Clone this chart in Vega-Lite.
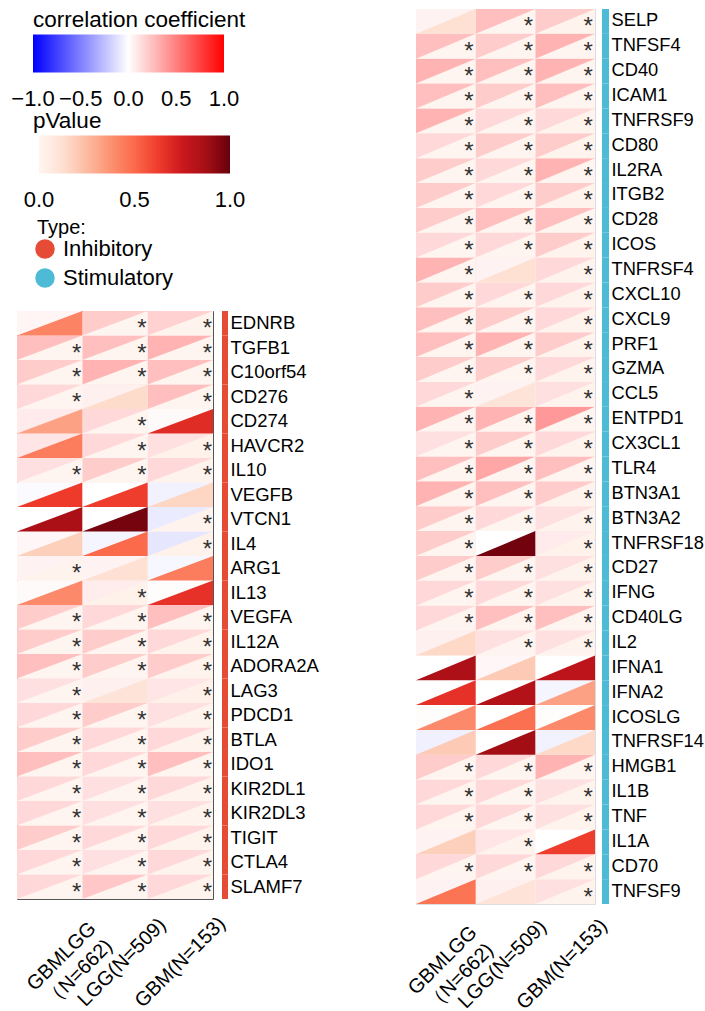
{
  "$schema": "https://vega.github.io/schema/vega-lite/v6.json",
  "padding": {"left": 16, "top": 8, "right": 0, "bottom": 0},
  "config": {
    "font": "Liberation Sans",
    "view": {"stroke": null},
    "legend": {"padding": 0, "titleFontWeight": "normal", "titleColor": "#000", "labelColor": "#000", "labelOverlap": false, "titleLimit": 0}
  },
  "datasets": {
    "inhibitory": [
      {"gene": "EDNRB", "cohort": "GBMLGG\n（N=662)", "corr": 0.04, "p": 0.42},
      {"gene": "EDNRB", "cohort": "LGG(N=509)", "corr": 0.2, "p": 0.001},
      {"gene": "EDNRB", "cohort": "GBM(N=153)", "corr": 0.18, "p": 0.01},
      {"gene": "TGFB1", "cohort": "GBMLGG\n（N=662)", "corr": 0.25, "p": 0.001},
      {"gene": "TGFB1", "cohort": "LGG(N=509)", "corr": 0.25, "p": 0.001},
      {"gene": "TGFB1", "cohort": "GBM(N=153)", "corr": 0.3, "p": 0.001},
      {"gene": "C10orf54", "cohort": "GBMLGG\n（N=662)", "corr": 0.2, "p": 0.001},
      {"gene": "C10orf54", "cohort": "LGG(N=509)", "corr": 0.3, "p": 0.001},
      {"gene": "C10orf54", "cohort": "GBM(N=153)", "corr": 0.25, "p": 0.001},
      {"gene": "CD276", "cohort": "GBMLGG\n（N=662)", "corr": 0.15, "p": 0.001},
      {"gene": "CD276", "cohort": "LGG(N=509)", "corr": 0.06, "p": 0.14},
      {"gene": "CD276", "cohort": "GBM(N=153)", "corr": 0.25, "p": 0.001},
      {"gene": "CD274", "cohort": "GBMLGG\n（N=662)", "corr": 0.08, "p": 0.33},
      {"gene": "CD274", "cohort": "LGG(N=509)", "corr": 0.15, "p": 0.001},
      {"gene": "CD274", "cohort": "GBM(N=153)", "corr": 0.02, "p": 0.68},
      {"gene": "HAVCR2", "cohort": "GBMLGG\n（N=662)", "corr": 0.1, "p": 0.44},
      {"gene": "HAVCR2", "cohort": "LGG(N=509)", "corr": 0.15, "p": 0.001},
      {"gene": "HAVCR2", "cohort": "GBM(N=153)", "corr": 0.12, "p": 0.02},
      {"gene": "IL10", "cohort": "GBMLGG\n（N=662)", "corr": 0.12, "p": 0.001},
      {"gene": "IL10", "cohort": "LGG(N=509)", "corr": 0.2, "p": 0.001},
      {"gene": "IL10", "cohort": "GBM(N=153)", "corr": 0.15, "p": 0.01},
      {"gene": "VEGFB", "cohort": "GBMLGG\n（N=662)", "corr": -0.02, "p": 0.63},
      {"gene": "VEGFB", "cohort": "LGG(N=509)", "corr": 0.0, "p": 0.62},
      {"gene": "VEGFB", "cohort": "GBM(N=153)", "corr": -0.05, "p": 0.16},
      {"gene": "VTCN1", "cohort": "GBMLGG\n（N=662)", "corr": 0.0, "p": 0.86},
      {"gene": "VTCN1", "cohort": "LGG(N=509)", "corr": 0.0, "p": 0.97},
      {"gene": "VTCN1", "cohort": "GBM(N=153)", "corr": -0.08, "p": 0.01},
      {"gene": "IL4", "cohort": "GBMLGG\n（N=662)", "corr": 0.03, "p": 0.18},
      {"gene": "IL4", "cohort": "LGG(N=509)", "corr": -0.04, "p": 0.5},
      {"gene": "IL4", "cohort": "GBM(N=153)", "corr": -0.1, "p": 0.02},
      {"gene": "ARG1", "cohort": "GBMLGG\n（N=662)", "corr": 0.05, "p": 0.01},
      {"gene": "ARG1", "cohort": "LGG(N=509)", "corr": 0.05, "p": 0.12},
      {"gene": "ARG1", "cohort": "GBM(N=153)", "corr": -0.03, "p": 0.44},
      {"gene": "IL13", "cohort": "GBMLGG\n（N=662)", "corr": 0.02, "p": 0.4},
      {"gene": "IL13", "cohort": "LGG(N=509)", "corr": 0.07, "p": 0.02},
      {"gene": "IL13", "cohort": "GBM(N=153)", "corr": 0.01, "p": 0.66},
      {"gene": "VEGFA", "cohort": "GBMLGG\n（N=662)", "corr": 0.2, "p": 0.001},
      {"gene": "VEGFA", "cohort": "LGG(N=509)", "corr": 0.15, "p": 0.001},
      {"gene": "VEGFA", "cohort": "GBM(N=153)", "corr": 0.25, "p": 0.001},
      {"gene": "IL12A", "cohort": "GBMLGG\n（N=662)", "corr": 0.2, "p": 0.001},
      {"gene": "IL12A", "cohort": "LGG(N=509)", "corr": 0.2, "p": 0.001},
      {"gene": "IL12A", "cohort": "GBM(N=153)", "corr": 0.15, "p": 0.01},
      {"gene": "ADORA2A", "cohort": "GBMLGG\n（N=662)", "corr": 0.25, "p": 0.001},
      {"gene": "ADORA2A", "cohort": "LGG(N=509)", "corr": 0.2, "p": 0.001},
      {"gene": "ADORA2A", "cohort": "GBM(N=153)", "corr": 0.2, "p": 0.01},
      {"gene": "LAG3", "cohort": "GBMLGG\n（N=662)", "corr": 0.12, "p": 0.001},
      {"gene": "LAG3", "cohort": "LGG(N=509)", "corr": 0.06, "p": 0.1},
      {"gene": "LAG3", "cohort": "GBM(N=153)", "corr": 0.1, "p": 0.03},
      {"gene": "PDCD1", "cohort": "GBMLGG\n（N=662)", "corr": 0.15, "p": 0.001},
      {"gene": "PDCD1", "cohort": "LGG(N=509)", "corr": 0.2, "p": 0.001},
      {"gene": "PDCD1", "cohort": "GBM(N=153)", "corr": 0.12, "p": 0.01},
      {"gene": "BTLA", "cohort": "GBMLGG\n（N=662)", "corr": 0.2, "p": 0.001},
      {"gene": "BTLA", "cohort": "LGG(N=509)", "corr": 0.15, "p": 0.001},
      {"gene": "BTLA", "cohort": "GBM(N=153)", "corr": 0.15, "p": 0.01},
      {"gene": "IDO1", "cohort": "GBMLGG\n（N=662)", "corr": 0.25, "p": 0.001},
      {"gene": "IDO1", "cohort": "LGG(N=509)", "corr": 0.15, "p": 0.001},
      {"gene": "IDO1", "cohort": "GBM(N=153)", "corr": 0.25, "p": 0.001},
      {"gene": "KIR2DL1", "cohort": "GBMLGG\n（N=662)", "corr": 0.15, "p": 0.001},
      {"gene": "KIR2DL1", "cohort": "LGG(N=509)", "corr": 0.12, "p": 0.001},
      {"gene": "KIR2DL1", "cohort": "GBM(N=153)", "corr": 0.15, "p": 0.01},
      {"gene": "KIR2DL3", "cohort": "GBMLGG\n（N=662)", "corr": 0.15, "p": 0.001},
      {"gene": "KIR2DL3", "cohort": "LGG(N=509)", "corr": 0.12, "p": 0.001},
      {"gene": "KIR2DL3", "cohort": "GBM(N=153)", "corr": 0.12, "p": 0.01},
      {"gene": "TIGIT", "cohort": "GBMLGG\n（N=662)", "corr": 0.2, "p": 0.001},
      {"gene": "TIGIT", "cohort": "LGG(N=509)", "corr": 0.15, "p": 0.001},
      {"gene": "TIGIT", "cohort": "GBM(N=153)", "corr": 0.15, "p": 0.01},
      {"gene": "CTLA4", "cohort": "GBMLGG\n（N=662)", "corr": 0.15, "p": 0.001},
      {"gene": "CTLA4", "cohort": "LGG(N=509)", "corr": 0.12, "p": 0.001},
      {"gene": "CTLA4", "cohort": "GBM(N=153)", "corr": 0.15, "p": 0.01},
      {"gene": "SLAMF7", "cohort": "GBMLGG\n（N=662)", "corr": 0.15, "p": 0.001},
      {"gene": "SLAMF7", "cohort": "LGG(N=509)", "corr": 0.22, "p": 0.001},
      {"gene": "SLAMF7", "cohort": "GBM(N=153)", "corr": 0.15, "p": 0.01}
    ],
    "stimulatory": [
      {"gene": "SELP", "cohort": "GBMLGG\n（N=662)", "corr": 0.05, "p": 0.12},
      {"gene": "SELP", "cohort": "LGG(N=509)", "corr": 0.25, "p": 0.001},
      {"gene": "SELP", "cohort": "GBM(N=153)", "corr": 0.2, "p": 0.01},
      {"gene": "TNFSF4", "cohort": "GBMLGG\n（N=662)", "corr": 0.25, "p": 0.001},
      {"gene": "TNFSF4", "cohort": "LGG(N=509)", "corr": 0.2, "p": 0.001},
      {"gene": "TNFSF4", "cohort": "GBM(N=153)", "corr": 0.3, "p": 0.001},
      {"gene": "CD40", "cohort": "GBMLGG\n（N=662)", "corr": 0.3, "p": 0.001},
      {"gene": "CD40", "cohort": "LGG(N=509)", "corr": 0.25, "p": 0.001},
      {"gene": "CD40", "cohort": "GBM(N=153)", "corr": 0.3, "p": 0.001},
      {"gene": "ICAM1", "cohort": "GBMLGG\n（N=662)", "corr": 0.25, "p": 0.001},
      {"gene": "ICAM1", "cohort": "LGG(N=509)", "corr": 0.2, "p": 0.001},
      {"gene": "ICAM1", "cohort": "GBM(N=153)", "corr": 0.25, "p": 0.001},
      {"gene": "TNFRSF9", "cohort": "GBMLGG\n（N=662)", "corr": 0.3, "p": 0.001},
      {"gene": "TNFRSF9", "cohort": "LGG(N=509)", "corr": 0.15, "p": 0.001},
      {"gene": "TNFRSF9", "cohort": "GBM(N=153)", "corr": 0.15, "p": 0.01},
      {"gene": "CD80", "cohort": "GBMLGG\n（N=662)", "corr": 0.15, "p": 0.001},
      {"gene": "CD80", "cohort": "LGG(N=509)", "corr": 0.2, "p": 0.001},
      {"gene": "CD80", "cohort": "GBM(N=153)", "corr": 0.2, "p": 0.01},
      {"gene": "IL2RA", "cohort": "GBMLGG\n（N=662)", "corr": 0.2, "p": 0.001},
      {"gene": "IL2RA", "cohort": "LGG(N=509)", "corr": 0.15, "p": 0.001},
      {"gene": "IL2RA", "cohort": "GBM(N=153)", "corr": 0.3, "p": 0.001},
      {"gene": "ITGB2", "cohort": "GBMLGG\n（N=662)", "corr": 0.2, "p": 0.001},
      {"gene": "ITGB2", "cohort": "LGG(N=509)", "corr": 0.15, "p": 0.001},
      {"gene": "ITGB2", "cohort": "GBM(N=153)", "corr": 0.2, "p": 0.01},
      {"gene": "CD28", "cohort": "GBMLGG\n（N=662)", "corr": 0.2, "p": 0.001},
      {"gene": "CD28", "cohort": "LGG(N=509)", "corr": 0.25, "p": 0.001},
      {"gene": "CD28", "cohort": "GBM(N=153)", "corr": 0.25, "p": 0.001},
      {"gene": "ICOS", "cohort": "GBMLGG\n（N=662)", "corr": 0.15, "p": 0.001},
      {"gene": "ICOS", "cohort": "LGG(N=509)", "corr": 0.15, "p": 0.001},
      {"gene": "ICOS", "cohort": "GBM(N=153)", "corr": 0.2, "p": 0.01},
      {"gene": "TNFRSF4", "cohort": "GBMLGG\n（N=662)", "corr": 0.3, "p": 0.001},
      {"gene": "TNFRSF4", "cohort": "LGG(N=509)", "corr": 0.05, "p": 0.12},
      {"gene": "TNFRSF4", "cohort": "GBM(N=153)", "corr": 0.15, "p": 0.01},
      {"gene": "CXCL10", "cohort": "GBMLGG\n（N=662)", "corr": 0.2, "p": 0.001},
      {"gene": "CXCL10", "cohort": "LGG(N=509)", "corr": 0.15, "p": 0.001},
      {"gene": "CXCL10", "cohort": "GBM(N=153)", "corr": 0.15, "p": 0.01},
      {"gene": "CXCL9", "cohort": "GBMLGG\n（N=662)", "corr": 0.25, "p": 0.001},
      {"gene": "CXCL9", "cohort": "LGG(N=509)", "corr": 0.2, "p": 0.001},
      {"gene": "CXCL9", "cohort": "GBM(N=153)", "corr": 0.15, "p": 0.01},
      {"gene": "PRF1", "cohort": "GBMLGG\n（N=662)", "corr": 0.25, "p": 0.001},
      {"gene": "PRF1", "cohort": "LGG(N=509)", "corr": 0.3, "p": 0.001},
      {"gene": "PRF1", "cohort": "GBM(N=153)", "corr": 0.2, "p": 0.01},
      {"gene": "GZMA", "cohort": "GBMLGG\n（N=662)", "corr": 0.2, "p": 0.001},
      {"gene": "GZMA", "cohort": "LGG(N=509)", "corr": 0.2, "p": 0.001},
      {"gene": "GZMA", "cohort": "GBM(N=153)", "corr": 0.15, "p": 0.01},
      {"gene": "CCL5", "cohort": "GBMLGG\n（N=662)", "corr": 0.15, "p": 0.001},
      {"gene": "CCL5", "cohort": "LGG(N=509)", "corr": 0.05, "p": 0.1},
      {"gene": "CCL5", "cohort": "GBM(N=153)", "corr": 0.12, "p": 0.01},
      {"gene": "ENTPD1", "cohort": "GBMLGG\n（N=662)", "corr": 0.3, "p": 0.001},
      {"gene": "ENTPD1", "cohort": "LGG(N=509)", "corr": 0.3, "p": 0.001},
      {"gene": "ENTPD1", "cohort": "GBM(N=153)", "corr": 0.4, "p": 0.001},
      {"gene": "CX3CL1", "cohort": "GBMLGG\n（N=662)", "corr": 0.12, "p": 0.001},
      {"gene": "CX3CL1", "cohort": "LGG(N=509)", "corr": 0.2, "p": 0.001},
      {"gene": "CX3CL1", "cohort": "GBM(N=153)", "corr": 0.15, "p": 0.01},
      {"gene": "TLR4", "cohort": "GBMLGG\n（N=662)", "corr": 0.25, "p": 0.001},
      {"gene": "TLR4", "cohort": "LGG(N=509)", "corr": 0.35, "p": 0.001},
      {"gene": "TLR4", "cohort": "GBM(N=153)", "corr": 0.25, "p": 0.001},
      {"gene": "BTN3A1", "cohort": "GBMLGG\n（N=662)", "corr": 0.3, "p": 0.001},
      {"gene": "BTN3A1", "cohort": "LGG(N=509)", "corr": 0.25, "p": 0.001},
      {"gene": "BTN3A1", "cohort": "GBM(N=153)", "corr": 0.2, "p": 0.01},
      {"gene": "BTN3A2", "cohort": "GBMLGG\n（N=662)", "corr": 0.2, "p": 0.001},
      {"gene": "BTN3A2", "cohort": "LGG(N=509)", "corr": 0.15, "p": 0.001},
      {"gene": "BTN3A2", "cohort": "GBM(N=153)", "corr": 0.12, "p": 0.01},
      {"gene": "TNFRSF18", "cohort": "GBMLGG\n（N=662)", "corr": 0.2, "p": 0.001},
      {"gene": "TNFRSF18", "cohort": "LGG(N=509)", "corr": 0.0, "p": 0.98},
      {"gene": "TNFRSF18", "cohort": "GBM(N=153)", "corr": 0.08, "p": 0.02},
      {"gene": "CD27", "cohort": "GBMLGG\n（N=662)", "corr": 0.2, "p": 0.001},
      {"gene": "CD27", "cohort": "LGG(N=509)", "corr": 0.2, "p": 0.001},
      {"gene": "CD27", "cohort": "GBM(N=153)", "corr": 0.12, "p": 0.01},
      {"gene": "IFNG", "cohort": "GBMLGG\n（N=662)", "corr": 0.15, "p": 0.001},
      {"gene": "IFNG", "cohort": "LGG(N=509)", "corr": 0.15, "p": 0.001},
      {"gene": "IFNG", "cohort": "GBM(N=153)", "corr": 0.12, "p": 0.01},
      {"gene": "CD40LG", "cohort": "GBMLGG\n（N=662)", "corr": 0.15, "p": 0.001},
      {"gene": "CD40LG", "cohort": "LGG(N=509)", "corr": 0.25, "p": 0.001},
      {"gene": "CD40LG", "cohort": "GBM(N=153)", "corr": 0.25, "p": 0.001},
      {"gene": "IL2", "cohort": "GBMLGG\n（N=662)", "corr": 0.06, "p": 0.15},
      {"gene": "IL2", "cohort": "LGG(N=509)", "corr": 0.12, "p": 0.001},
      {"gene": "IL2", "cohort": "GBM(N=153)", "corr": 0.12, "p": 0.01},
      {"gene": "IFNA1", "cohort": "GBMLGG\n（N=662)", "corr": 0.0, "p": 0.85},
      {"gene": "IFNA1", "cohort": "LGG(N=509)", "corr": 0.03, "p": 0.2},
      {"gene": "IFNA1", "cohort": "GBM(N=153)", "corr": 0.0, "p": 0.8},
      {"gene": "IFNA2", "cohort": "GBMLGG\n（N=662)", "corr": 0.0, "p": 0.66},
      {"gene": "IFNA2", "cohort": "LGG(N=509)", "corr": 0.0, "p": 0.83},
      {"gene": "IFNA2", "cohort": "GBM(N=153)", "corr": -0.04, "p": 0.33},
      {"gene": "ICOSLG", "cohort": "GBMLGG\n（N=662)", "corr": 0.01, "p": 0.4},
      {"gene": "ICOSLG", "cohort": "LGG(N=509)", "corr": 0.0, "p": 0.48},
      {"gene": "ICOSLG", "cohort": "GBM(N=153)", "corr": 0.01, "p": 0.4},
      {"gene": "TNFRSF14", "cohort": "GBMLGG\n（N=662)", "corr": -0.06, "p": 0.2},
      {"gene": "TNFRSF14", "cohort": "LGG(N=509)", "corr": 0.0, "p": 0.88},
      {"gene": "TNFRSF14", "cohort": "GBM(N=153)", "corr": -0.05, "p": 0.15},
      {"gene": "HMGB1", "cohort": "GBMLGG\n（N=662)", "corr": 0.2, "p": 0.001},
      {"gene": "HMGB1", "cohort": "LGG(N=509)", "corr": 0.15, "p": 0.001},
      {"gene": "HMGB1", "cohort": "GBM(N=153)", "corr": 0.3, "p": 0.001},
      {"gene": "IL1B", "cohort": "GBMLGG\n（N=662)", "corr": 0.15, "p": 0.001},
      {"gene": "IL1B", "cohort": "LGG(N=509)", "corr": 0.15, "p": 0.001},
      {"gene": "IL1B", "cohort": "GBM(N=153)", "corr": 0.12, "p": 0.01},
      {"gene": "TNF", "cohort": "GBMLGG\n（N=662)", "corr": 0.15, "p": 0.001},
      {"gene": "TNF", "cohort": "LGG(N=509)", "corr": 0.15, "p": 0.001},
      {"gene": "TNF", "cohort": "GBM(N=153)", "corr": 0.12, "p": 0.01},
      {"gene": "IL1A", "cohort": "GBMLGG\n（N=662)", "corr": 0.05, "p": 0.18},
      {"gene": "IL1A", "cohort": "LGG(N=509)", "corr": 0.1, "p": 0.01},
      {"gene": "IL1A", "cohort": "GBM(N=153)", "corr": 0.0, "p": 0.62},
      {"gene": "CD70", "cohort": "GBMLGG\n（N=662)", "corr": 0.15, "p": 0.001},
      {"gene": "CD70", "cohort": "LGG(N=509)", "corr": 0.15, "p": 0.001},
      {"gene": "CD70", "cohort": "GBM(N=153)", "corr": 0.15, "p": 0.01},
      {"gene": "TNFSF9", "cohort": "GBMLGG\n（N=662)", "corr": 0.05, "p": 0.47},
      {"gene": "TNFSF9", "cohort": "LGG(N=509)", "corr": 0.06, "p": 0.1},
      {"gene": "TNFSF9", "cohort": "GBM(N=153)", "corr": 0.12, "p": 0.01}
    ],
    "inhibitoryType": [
      {"gene": "EDNRB", "type": "Inhibitory"}, {"gene": "TGFB1", "type": "Inhibitory"},
      {"gene": "C10orf54", "type": "Inhibitory"}, {"gene": "CD276", "type": "Inhibitory"},
      {"gene": "CD274", "type": "Inhibitory"}, {"gene": "HAVCR2", "type": "Inhibitory"},
      {"gene": "IL10", "type": "Inhibitory"}, {"gene": "VEGFB", "type": "Inhibitory"},
      {"gene": "VTCN1", "type": "Inhibitory"}, {"gene": "IL4", "type": "Inhibitory"},
      {"gene": "ARG1", "type": "Inhibitory"}, {"gene": "IL13", "type": "Inhibitory"},
      {"gene": "VEGFA", "type": "Inhibitory"}, {"gene": "IL12A", "type": "Inhibitory"},
      {"gene": "ADORA2A", "type": "Inhibitory"}, {"gene": "LAG3", "type": "Inhibitory"},
      {"gene": "PDCD1", "type": "Inhibitory"}, {"gene": "BTLA", "type": "Inhibitory"},
      {"gene": "IDO1", "type": "Inhibitory"}, {"gene": "KIR2DL1", "type": "Inhibitory"},
      {"gene": "KIR2DL3", "type": "Inhibitory"}, {"gene": "TIGIT", "type": "Inhibitory"},
      {"gene": "CTLA4", "type": "Inhibitory"}, {"gene": "SLAMF7", "type": "Inhibitory"}
    ],
    "stimulatoryType": [
      {"gene": "SELP", "type": "Stimulatory"}, {"gene": "TNFSF4", "type": "Stimulatory"},
      {"gene": "CD40", "type": "Stimulatory"}, {"gene": "ICAM1", "type": "Stimulatory"},
      {"gene": "TNFRSF9", "type": "Stimulatory"}, {"gene": "CD80", "type": "Stimulatory"},
      {"gene": "IL2RA", "type": "Stimulatory"}, {"gene": "ITGB2", "type": "Stimulatory"},
      {"gene": "CD28", "type": "Stimulatory"}, {"gene": "ICOS", "type": "Stimulatory"},
      {"gene": "TNFRSF4", "type": "Stimulatory"}, {"gene": "CXCL10", "type": "Stimulatory"},
      {"gene": "CXCL9", "type": "Stimulatory"}, {"gene": "PRF1", "type": "Stimulatory"},
      {"gene": "GZMA", "type": "Stimulatory"}, {"gene": "CCL5", "type": "Stimulatory"},
      {"gene": "ENTPD1", "type": "Stimulatory"}, {"gene": "CX3CL1", "type": "Stimulatory"},
      {"gene": "TLR4", "type": "Stimulatory"}, {"gene": "BTN3A1", "type": "Stimulatory"},
      {"gene": "BTN3A2", "type": "Stimulatory"}, {"gene": "TNFRSF18", "type": "Stimulatory"},
      {"gene": "CD27", "type": "Stimulatory"}, {"gene": "IFNG", "type": "Stimulatory"},
      {"gene": "CD40LG", "type": "Stimulatory"}, {"gene": "IL2", "type": "Stimulatory"},
      {"gene": "IFNA1", "type": "Stimulatory"}, {"gene": "IFNA2", "type": "Stimulatory"},
      {"gene": "ICOSLG", "type": "Stimulatory"}, {"gene": "TNFRSF14", "type": "Stimulatory"},
      {"gene": "HMGB1", "type": "Stimulatory"}, {"gene": "IL1B", "type": "Stimulatory"},
      {"gene": "TNF", "type": "Stimulatory"}, {"gene": "IL1A", "type": "Stimulatory"},
      {"gene": "CD70", "type": "Stimulatory"}, {"gene": "TNFSF9", "type": "Stimulatory"}
    ]
  },
  "spacing": 84,
  "resolve": {"scale": {"fill": "independent", "color": "independent"}},
  "hconcat": [
    {
      "spacing": 1,
      "resolve": {"scale": {"fill": "independent", "color": "independent"}},
      "vconcat": [
        {
          "width": 196,
          "height": 300,
          "data": {"values": []},
          "resolve": {"scale": {"color": "independent"}},
          "layer": [
            {
              "mark": {"type": "rect"},
              "encoding": {
                "fill": {"field": "corr", "type": "quantitative", "title": "correlation coefficient",
                  "scale": {"domain": [-1, 0, 1], "range": ["#0000ff", "#ffffff", "#ff0000"], "interpolate": "rgb"},
                  "legend": {"orient": "none", "legendX": 16, "legendY": 0, "direction": "horizontal", "titleFontSize": 22.5, "titlePadding": 3, "gradientLength": 191, "gradientThickness": 38, "gradientStrokeWidth": 0, "values": [-1, -0.5, 0, 0.5, 1], "format": ".1f", "labelFontSize": 22, "labelOffset": 16,
                    "encode": {"labels": {"update": {"align": {"value": "center"}}}}}}
              }
            },
            {
              "mark": {"type": "point", "filled": true, "opacity": 1},
              "encoding": {
                "color": {"field": "p", "type": "quantitative", "title": "pValue",
                  "scale": {"domain": [0, 0.125, 0.25, 0.375, 0.5, 0.625, 0.75, 0.875, 1], "range": ["#fff5f0", "#fee0d2", "#fcbba1", "#fc9272", "#fb6a4a", "#ef3b2c", "#cb181d", "#a50f15", "#67000d"], "interpolate": "rgb"},
                  "legend": {"orient": "none", "legendX": 16, "legendY": 101, "direction": "horizontal", "titleFontSize": 22.5, "titlePadding": 3, "gradientLength": 191, "gradientThickness": 38, "gradientStrokeWidth": 0, "gradientOpacity": 1, "values": [0, 0.5, 1], "format": ".1f", "labelFontSize": 22, "labelOffset": 16,
                    "encode": {"labels": {"update": {"align": {"value": "center"}}}, "title": {"update": {"dx": {"value": -6}}}, "gradient": {"update": {"opacity": {"value": 1}}}}}}
              }
            },
            {
              "mark": {"type": "point", "filled": true, "opacity": 1},
              "encoding": {
                "color": {"field": "type", "type": "nominal", "title": "Type:",
                  "scale": {"domain": ["Inhibitory", "Stimulatory"], "range": ["#E64B35", "#4DBBD5"]},
                  "legend": {"orient": "none", "legendX": 17, "legendY": 209, "titleFontSize": 20, "titlePadding": 0, "symbolType": "circle", "symbolSize": 380, "symbolStrokeWidth": 0, "symbolOpacity": 1, "labelFontSize": 22, "labelOffset": 7, "rowPadding": 7,
                    "encode": {"title": {"update": {"dx": {"value": 3}}}}}}
              }
            }
          ]
        },
        {
          "bounds": "flush",
          "spacing": 9,
          "resolve": {"scale": {"color": "independent"}},
          "hconcat": [
            {
              "width": 196,
              "height": 588,
              "data": {"name": "inhibitory"},
              "view": {"stroke": "#555555", "strokeWidth": 1},
              "encoding": {
                "x": {"field": "cohort", "type": "nominal", "sort": null, "scale": {"paddingInner": 0, "paddingOuter": 0},
                  "axis": {"title": null, "labelAngle": -45, "labelAlign": "center", "labelBaseline": "middle", "ticks": false, "tickSize": 0, "domain": false, "labelFontSize": 20, "labelColor": "#000", "labelLineHeight": 24, "labelLimit": 0, "labelExpr": "split(datum.label, '\\n')",
                    "labelPadding": {"condition": {"test": "indexof(datum.value, 'GBMLGG') >= 0", "value": 57}, "value": 63},
                    "labelOffset": {"condition": [{"test": "indexof(datum.value, 'GBMLGG') >= 0", "value": 12}, {"test": "datum.value == 'LGG(N=509)'", "value": 7}], "value": 0}}},
                "y": {"field": "gene", "type": "nominal", "sort": null, "scale": {"paddingInner": 0, "paddingOuter": 0}, "axis": null}
              },
              "layer": [
                {
                  "mark": {"type": "rect"},
                  "encoding": {
                    "fill": {"field": "corr", "type": "quantitative",
                      "scale": {"domain": [-1, 0, 1], "range": ["#0000ff", "#ffffff", "#ff0000"], "interpolate": "rgb"},
                      "legend": null}
                  }
                },
                {
                  "mark": {"type": "point", "shape": "M-1,0.375L1,0.375L1,-0.375Z", "filled": true, "size": 4268, "opacity": 1, "strokeWidth": 0},
                  "encoding": {
                    "color": {"field": "p", "type": "quantitative",
                      "scale": {"domain": [0, 0.125, 0.25, 0.375, 0.5, 0.625, 0.75, 0.875, 1], "range": ["#fff5f0", "#fee0d2", "#fcbba1", "#fc9272", "#fb6a4a", "#ef3b2c", "#cb181d", "#a50f15", "#67000d"], "interpolate": "rgb"},
                      "legend": null}
                  }
                },
                {
                  "transform": [{"filter": "datum.p < 0.05"}],
                  "mark": {"type": "text", "text": "*", "fontSize": 24, "color": "#333333", "dx": 27, "dy": 13, "align": "center", "baseline": "alphabetic"}
                }
              ]
            },
            {
              "width": 6,
              "height": 588,
              "data": {"name": "inhibitoryType"},
              "mark": {"type": "rect"},
              "encoding": {
                "y": {"field": "gene", "type": "nominal", "sort": null, "scale": {"paddingInner": 0, "paddingOuter": 0},
                  "axis": {"orient": "right", "title": null, "ticks": false, "tickSize": 0, "domain": false, "labelFontSize": 18.5, "labelColor": "#000", "labelPadding": 2, "labelLimit": 0}},
                "color": {"field": "type", "type": "nominal",
                  "scale": {"domain": ["Inhibitory", "Stimulatory"], "range": ["#E64B35", "#4DBBD5"]},
                  "legend": null}
              }
            }
          ]
        }
      ]
    },
    {
      "bounds": "flush",
      "spacing": 7,
      "resolve": {"scale": {"color": "independent"}},
      "hconcat": [
        {
          "width": 179,
          "height": 895,
          "data": {"name": "stimulatory"},
          "view": {"stroke": "#dddddd", "strokeWidth": 1},
          "encoding": {
            "x": {"field": "cohort", "type": "nominal", "sort": null, "scale": {"paddingInner": 0, "paddingOuter": 0},
              "axis": {"title": null, "labelAngle": -45, "labelAlign": "center", "labelBaseline": "middle", "ticks": false, "tickSize": 0, "domain": false, "labelFontSize": 20, "labelColor": "#000", "labelLineHeight": 24, "labelLimit": 0, "labelExpr": "split(datum.label, '\\n')", "labelOffset": -3,
                "labelPadding": {"condition": {"test": "indexof(datum.value, 'GBMLGG') >= 0", "value": 56}, "value": 60}}},
            "y": {"field": "gene", "type": "nominal", "sort": null, "scale": {"paddingInner": 0, "paddingOuter": 0}, "axis": null}
          },
          "layer": [
            {
              "mark": {"type": "rect"},
              "encoding": {
                "fill": {"field": "corr", "type": "quantitative",
                  "scale": {"domain": [-1, 0, 1], "range": ["#0000ff", "#ffffff", "#ff0000"], "interpolate": "rgb"},
                  "legend": null}
              }
            },
            {
              "mark": {"type": "point", "shape": "M-1,0.4167L1,0.4167L1,-0.4167Z", "filled": true, "size": 3560, "opacity": 1, "strokeWidth": 0},
              "encoding": {
                "color": {"field": "p", "type": "quantitative",
                  "scale": {"domain": [0, 0.125, 0.25, 0.375, 0.5, 0.625, 0.75, 0.875, 1], "range": ["#fff5f0", "#fee0d2", "#fcbba1", "#fc9272", "#fb6a4a", "#ef3b2c", "#cb181d", "#a50f15", "#67000d"], "interpolate": "rgb"},
                  "legend": null}
              }
            },
            {
              "transform": [{"filter": "datum.p < 0.05"}],
              "mark": {"type": "text", "text": "*", "fontSize": 24, "color": "#333333", "dx": 23, "dy": 13, "align": "center", "baseline": "alphabetic"}
            }
          ]
        },
        {
          "width": 7,
          "height": 895,
          "data": {"name": "stimulatoryType"},
          "mark": {"type": "rect"},
          "encoding": {
            "y": {"field": "gene", "type": "nominal", "sort": null, "scale": {"paddingInner": 0, "paddingOuter": 0},
              "axis": {"orient": "right", "title": null, "ticks": false, "tickSize": 0, "domain": false, "labelFontSize": 18.3, "labelColor": "#000", "labelPadding": 2, "labelLimit": 0}},
            "color": {"field": "type", "type": "nominal",
              "scale": {"domain": ["Inhibitory", "Stimulatory"], "range": ["#E64B35", "#4DBBD5"]},
              "legend": null}
          }
        }
      ]
    }
  ]
}
